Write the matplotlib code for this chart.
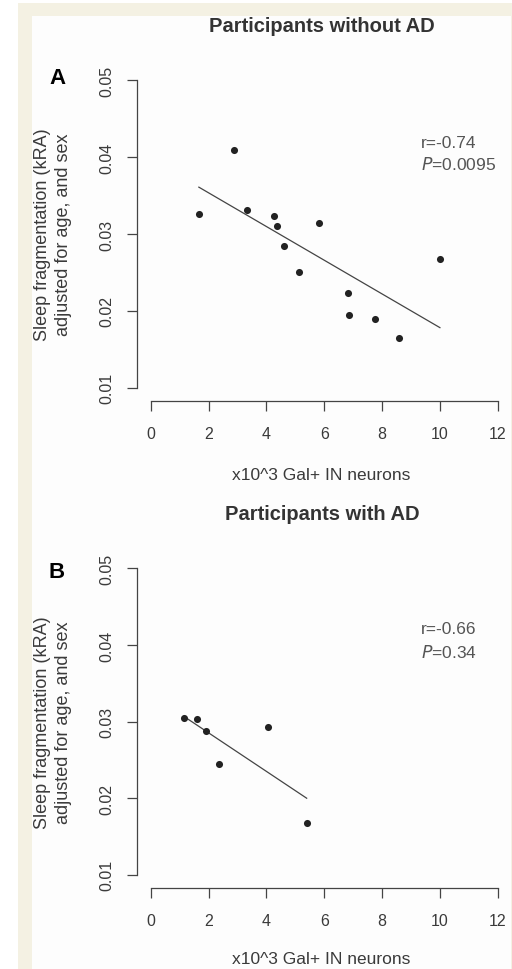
import numpy as np
import matplotlib
matplotlib.use("Agg")
import matplotlib.pyplot as plt
from matplotlib.patches import Rectangle

plt.rcParams['font.family'] = ['Liberation Sans', 'DejaVu Sans']

# Panel A: participants without AD
x_noad = [1.66, 2.86, 3.31, 4.27, 4.38, 4.60, 5.81, 5.13, 6.81, 6.87, 7.77, 8.59, 10.0]
y_noad = [0.0326, 0.0409, 0.0331, 0.0323, 0.0310, 0.0285, 0.0314, 0.0250,
          0.0223, 0.0194, 0.0189, 0.0165, 0.0267]

# Panel B: participants with AD
x_ad = [1.14, 1.58, 1.89, 4.06, 2.34, 5.39]
y_ad = [0.0304, 0.0303, 0.0288, 0.0293, 0.0245, 0.0167]

x_ticks = [0, 2, 4, 6, 8, 10, 12]
y_ticks = [0.01, 0.02, 0.03, 0.04, 0.05]

panels = [
    ("A", "Participants without AD", x_noad, y_noad, "r=-0.74", "0.0095"),
    ("B", "Participants with AD", x_ad, y_ad, "r=-0.66", "0.34"),
]

W, H = 512, 970
fig = plt.figure(figsize=(W / 100, H / 100), dpi=100)
fig.patch.set_facecolor("white")

# cream frame and white inner panel
fig.patches.append(Rectangle((18 / W, 0), 1, 1 - 4 / H, transform=fig.transFigure,
                             facecolor="#f4f1e3", edgecolor="none", zorder=-2))
fig.patches.append(Rectangle((32 / W, 0), (511 - 32) / W, 1 - 17 / H, transform=fig.transFigure,
                             facecolor="#fdfdfd", edgecolor="none", zorder=-1))

grey = "#3a3a3a"
# axes boxes in pixels: (top, bottom)
boxes = [(69, 401), (557, 888)]
title_y = [27, 515]
label_y = [78, 573]
ann_y = [143, 630]
xlab_y = [475, 960]

for i, (tag, title, xs, ys, rtxt, ptxt) in enumerate(panels):
    top, bot = boxes[i]
    ax = fig.add_axes([137 / W, 1 - bot / H, (511.6 - 137) / W, (bot - top) / H])
    ax.set_facecolor("none")
    ax.scatter(xs, ys, s=26, color="#222222", zorder=3, linewidths=0)
    k, b = np.polyfit(xs, ys, 1)
    xx = np.array([min(xs), max(xs)])
    ax.plot(xx, k * xx + b, color="#444444", lw=0.9)

    ax.set_xlim(-0.48, 12.48)
    ax.set_ylim(0.0084, 0.0516)
    ax.set_xticks(x_ticks)
    ax.set_xticklabels([str(t) for t in x_ticks])
    ax.set_yticks(y_ticks)
    ax.set_yticklabels([f"{t:.2f}" for t in y_ticks], rotation=90, va="center")
    for side in ["top", "right"]:
        ax.spines[side].set_visible(False)
    ax.spines["left"].set_bounds(0.01, 0.05)
    ax.spines["bottom"].set_bounds(0, 12)
    ax.spines["bottom"].set_position(("outward", 1))
    for side in ["left", "bottom"]:
        ax.spines[side].set_color("#444444")
        ax.spines[side].set_linewidth(0.9)
    ax.tick_params(axis="both", length=7, width=0.9, color="#444444",
                   labelcolor=grey, labelsize=11.5)
    ax.tick_params(axis="x", pad=11)
    ax.tick_params(axis="y", pad=9)

    fig.text(322 / W, 1 - title_y[i] / H, title, ha="center", va="center",
             fontsize=14.5, fontweight="bold", color="#333333")
    fig.text(57 / W, 1 - label_y[i] / H, tag, ha="center", va="center",
             fontsize=16, fontweight="bold", color="black")
    fig.text(321 / W, 1 - xlab_y[i] / H, "x10^3 Gal+ IN neurons", ha="center", va="center",
             fontsize=12.5, color=grey)
    yc = (top + bot) / 2
    fig.text(43 / W, 1 - yc / H, "Sleep fragmentation (kRA)", rotation=90,
             ha="center", va="center", fontsize=13, color=grey)
    fig.text(63 / W, 1 - yc / H, "adjusted for age, and sex", rotation=90,
             ha="center", va="center", fontsize=13, color=grey)
    fig.text(421 / W, 1 - ann_y[i] / H, rtxt, ha="left", va="center",
             fontsize=12.5, color="#555555")
    fig.text(421 / W, 1 - (ann_y[i] + 22) / H, r"$\it{P}$" + "=" + ptxt, ha="left", va="center",
             fontsize=12.5, color="#555555")

fig.savefig("out.png", dpi=100)
